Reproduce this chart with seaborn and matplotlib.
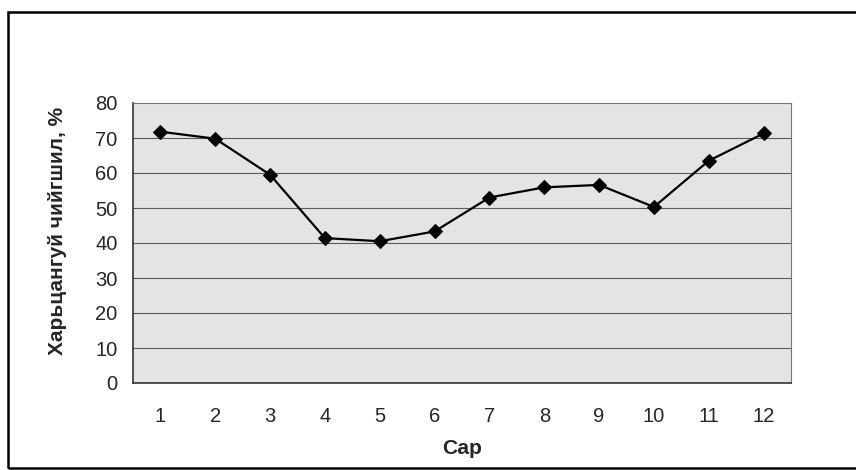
import matplotlib
matplotlib.use("Agg")
import matplotlib.pyplot as plt
import seaborn as sns
import pandas as pd
from matplotlib.patches import Rectangle

months = [1, 2, 3, 4, 5, 6, 7, 8, 9, 10, 11, 12]
humidity = [71.8, 69.8, 59.5, 41.4, 40.5, 43.3, 53.0, 55.9, 56.6, 50.3, 63.5, 71.3]
y_ticks = [0, 10, 20, 30, 40, 50, 60, 70, 80]
x_label = "Сар"
y_label = "Харьцангуй чийгшил, %"

df = pd.DataFrame({"month": months, "humidity": humidity})

sns.set_style("white")
plt.rcParams["font.family"] = ["Liberation Sans", "DejaVu Sans"]

fig = plt.figure(figsize=(8.56, 4.70), dpi=100)
ax = fig.add_axes([133/856, 87/470, 658/856, 280/470])
ax.set_facecolor("#e4e4e4")

sns.lineplot(data=df, x="month", y="humidity", ax=ax, color="black",
             linewidth=1.6, marker="D", markersize=7.5, markeredgecolor="black",
             zorder=3)

ax.set_xlim(0.5, 12.5)
ax.set_ylim(0, 80)
ax.set_yticks(y_ticks)
ax.set_yticklabels([str(v) for v in y_ticks], fontsize=14.5)
ax.set_xticks(months)
ax.set_xticklabels([str(m) for m in months], fontsize=14.5)
ax.set_xticks([m + 0.5 for m in [0] + months], minor=True)
ax.tick_params(axis="x", which="major", length=0, pad=17)
ax.tick_params(axis="x", which="minor", length=5, width=0.8, direction="out", color="#333333")
ax.tick_params(axis="y", which="major", length=5, width=0.8, direction="out", color="#333333", pad=6)

for v in y_ticks[1:-1]:
    ax.axhline(v, color="#5a5a5a", linewidth=0.8, zorder=1)

for side in ["left", "bottom"]:
    ax.spines[side].set_color("#333333")
    ax.spines[side].set_linewidth(1.2)
for side in ["top", "right"]:
    ax.spines[side].set_color("#777777")
    ax.spines[side].set_linewidth(0.8)

ax.set_xlabel(x_label, fontsize=15, fontweight="bold", labelpad=10)
ax.set_ylabel(y_label, fontsize=15, fontweight="bold")
ax.yaxis.set_label_coords(-(133 - 67) / 658, (383 - 231) / 280)

fig.patches.append(Rectangle((8/856, 2/470), 860/856, 456/470, transform=fig.transFigure,
                             fill=False, edgecolor="black", linewidth=1.8, clip_on=False))

fig.savefig("out.png", dpi=100, facecolor="white")
